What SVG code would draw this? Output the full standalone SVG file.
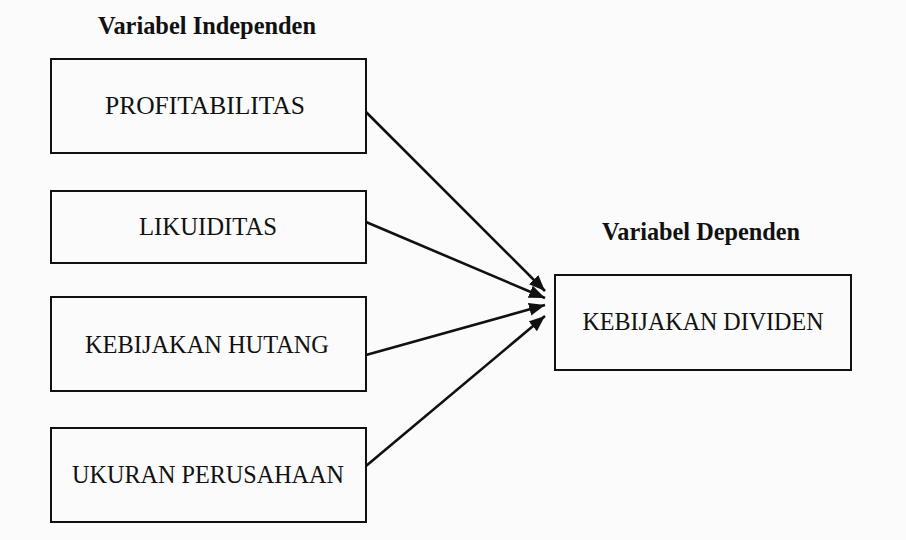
<svg xmlns="http://www.w3.org/2000/svg" width="906" height="540" viewBox="0 0 906 540">
<defs>
<style>
.box{fill:#fbfbfb;stroke:#111;stroke-width:2}
.t{font-family:"Liberation Serif","Times New Roman",serif;font-size:26px;fill:#111;text-anchor:middle}
.h{font-family:"Liberation Serif","Times New Roman",serif;font-size:25px;font-weight:bold;fill:#111;text-anchor:middle}
.c{stroke:#111;stroke-width:2.6;fill:none}
</style>
<marker id="ah" markerUnits="userSpaceOnUse" markerWidth="17" markerHeight="14" refX="16" refY="6.5" orient="auto">
<path d="M0,0 L16,6.5 L0,13 Z" fill="#111"/>
</marker>
</defs>
<rect width="906" height="540" fill="#fbfbfb"/>
<text class="h" x="207" y="34" textLength="218" lengthAdjust="spacingAndGlyphs">Variabel Independen</text>
<text class="h" x="701" y="240" textLength="198" lengthAdjust="spacingAndGlyphs">Variabel Dependen</text>
<g id="profitabilitas">
<rect class="box" x="51" y="59" width="315" height="94"/>
<text class="t" x="205" y="114" textLength="200" lengthAdjust="spacingAndGlyphs">PROFITABILITAS</text>
</g>
<g id="likuiditas">
<rect class="box" x="51" y="191" width="315" height="72"/>
<text class="t" x="208" y="235" textLength="138" lengthAdjust="spacingAndGlyphs">LIKUIDITAS</text>
</g>
<g id="kebijakan-hutang">
<rect class="box" x="51" y="297" width="315" height="94"/>
<text class="t" x="207" y="353" textLength="244" lengthAdjust="spacingAndGlyphs">KEBIJAKAN HUTANG</text>
</g>
<g id="ukuran-perusahaan">
<rect class="box" x="51" y="428" width="315" height="94"/>
<text class="t" x="208" y="483" textLength="272" lengthAdjust="spacingAndGlyphs">UKURAN PERUSAHAAN</text>
</g>
<g id="kebijakan-dividen">
<rect class="box" x="555" y="275" width="296" height="95"/>
<text class="t" x="703" y="330" textLength="241" lengthAdjust="spacingAndGlyphs">KEBIJAKAN DIVIDEN</text>
</g>
<g id="connectors">
<line class="c" x1="366" y1="112" x2="545" y2="291" marker-end="url(#ah)"/>
<line class="c" x1="366" y1="222" x2="545" y2="298" marker-end="url(#ah)"/>
<line class="c" x1="366" y1="355" x2="545" y2="305" marker-end="url(#ah)"/>
<line class="c" x1="366" y1="466" x2="545" y2="316" marker-end="url(#ah)"/>
</g>
</svg>
